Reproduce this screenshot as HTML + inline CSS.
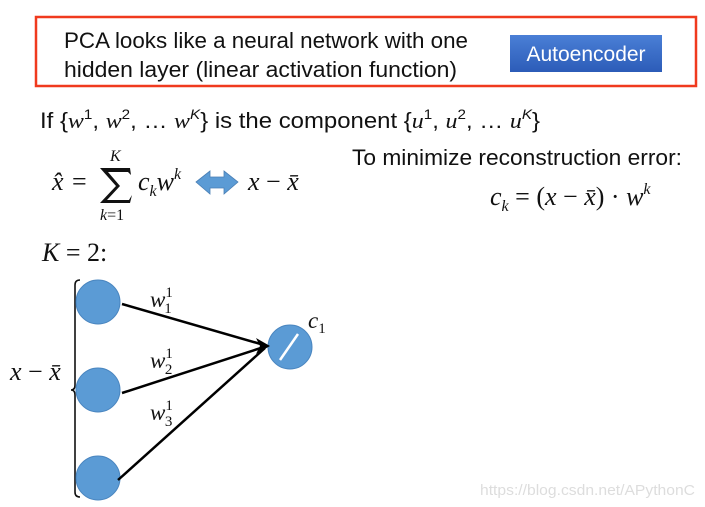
<!DOCTYPE html>
<html><head><style>body{margin:0;background:#fff}svg{display:block}</style></head><body>
<svg width="705" height="507" viewBox="0 0 705 507" xmlns="http://www.w3.org/2000/svg" font-family="Liberation Sans, sans-serif">
<defs><linearGradient id="g" x1="0" y1="0" x2="0" y2="1"><stop offset="0" stop-color="#4a7fd6"/><stop offset="1" stop-color="#2c5cb8"/></linearGradient></defs>
<rect x="36" y="17" width="660" height="69" fill="none" stroke="#f03a1e" stroke-width="2.5"/>
<text x="64" y="48" font-size="22" fill="#111" textLength="404" lengthAdjust="spacingAndGlyphs">PCA looks like a neural network with one</text>
<text x="64" y="77" font-size="22" fill="#111" textLength="393" lengthAdjust="spacingAndGlyphs">hidden layer (linear activation function)</text>
<rect x="510" y="35" width="152" height="37" fill="url(#g)"/>
<text x="586" y="61" font-size="21" fill="#fff" text-anchor="middle">Autoencoder</text>
<text x="40" y="128" font-size="22" fill="#111" textLength="500" lengthAdjust="spacingAndGlyphs">If {<tspan font-family="Liberation Serif" font-style="italic">w</tspan><tspan font-size="14" dy="-9">1</tspan><tspan dy="9">, </tspan><tspan font-family="Liberation Serif" font-style="italic">w</tspan><tspan font-size="14" dy="-9">2</tspan><tspan dy="9">, … </tspan><tspan font-family="Liberation Serif" font-style="italic">w</tspan><tspan font-size="14" dy="-9" font-style="italic">K</tspan><tspan dy="9">} is the component {</tspan><tspan font-family="Liberation Serif" font-style="italic">u</tspan><tspan font-size="14" dy="-9">1</tspan><tspan dy="9">, </tspan><tspan font-family="Liberation Serif" font-style="italic">u</tspan><tspan font-size="14" dy="-9">2</tspan><tspan dy="9">, … </tspan><tspan font-family="Liberation Serif" font-style="italic">u</tspan><tspan font-size="14" dy="-9" font-style="italic">K</tspan><tspan dy="9">}</tspan></text>
<g font-family="Liberation Serif" fill="#111">
<text x="52" y="190" font-size="26" font-style="italic">x̂</text>
<text x="72" y="190" font-size="26">=</text>
<path d="M100 168 L130 168 L131 175 L128 172 L108 172 L120 186 L107 200 L129 200 L132 195 L130 203 L100 203 L116 186 Z" fill="#111"/>
<text x="110" y="161" font-size="16" font-style="italic">K</text>
<text x="100" y="220" font-size="16"><tspan font-style="italic">k</tspan>=1</text>
<text x="138" y="190" font-size="26" font-style="italic">c<tspan font-size="16" dy="6">k</tspan><tspan dy="-6">w</tspan><tspan font-size="16" dy="-11">k</tspan></text>
<text x="248" y="190" font-size="26" font-style="italic">x <tspan font-style="normal">−</tspan> x̄</text>
<text x="490" y="205" font-size="26" font-style="italic">c<tspan font-size="16" dy="6">k</tspan><tspan dy="-6" font-style="normal"> = (</tspan>x <tspan font-style="normal">−</tspan> x̄<tspan font-style="normal">) · </tspan>w<tspan font-size="16" dy="-11">k</tspan></text>
<text x="42" y="261" font-size="26" font-style="italic">K <tspan font-style="normal">= 2:</tspan></text>
<text x="10" y="380" font-size="26" font-style="italic">x <tspan font-style="normal">−</tspan> x̄</text>
<text x="150" y="307" font-size="23" font-style="italic">w<tspan font-size="15" font-style="normal" dy="-10">1</tspan><tspan font-size="15" font-style="normal" dx="-8" dy="16">1</tspan></text>
<text x="150" y="368" font-size="23" font-style="italic">w<tspan font-size="15" font-style="normal" dy="-10">1</tspan><tspan font-size="15" font-style="normal" dx="-8" dy="16">2</tspan></text>
<text x="150" y="420" font-size="23" font-style="italic">w<tspan font-size="15" font-style="normal" dy="-10">1</tspan><tspan font-size="15" font-style="normal" dx="-8" dy="16">3</tspan></text>
<text x="308" y="328" font-size="23" font-style="italic">c<tspan font-size="15" font-style="normal" dy="5">1</tspan></text>
</g>
<text x="352" y="165" font-size="22" fill="#111" textLength="330" lengthAdjust="spacingAndGlyphs">To minimize reconstruction error:</text>
<path d="M196 182 L210 171 L210 177 L224 177 L224 171 L238 182 L224 194 L224 188 L210 188 L210 194 Z" fill="#5b9bd5" stroke="#4a7fb5" stroke-width="0.8"/>
<path d="M80 280 Q75 280 75 285 L75 385 Q75 390 71 390 Q75 390 75 395 L75 492 Q75 497 80 497" fill="none" stroke="#111" stroke-width="1.6"/>
<g fill="#5b9bd5" stroke="#4a86c0"><ellipse cx="98" cy="302" rx="22" ry="22"/><ellipse cx="98" cy="390" rx="22" ry="22"/><ellipse cx="98" cy="478" rx="22" ry="22"/><ellipse cx="290" cy="347" rx="22" ry="22"/></g>
<line x1="280" y1="360" x2="298" y2="334" stroke="#fff" stroke-width="2.5"/>
<g stroke="#000" stroke-width="2.5"><line x1="122" y1="304" x2="264" y2="345"/><line x1="122" y1="393" x2="264" y2="347"/><line x1="118" y1="480" x2="265" y2="348"/></g>
<path d="M270 346 L256 338 L260 346 L256 354 Z" fill="#000"/>
<text x="480" y="495" font-size="15" fill="#ddd" textLength="215" lengthAdjust="spacingAndGlyphs">https://blog.csdn.net/APythonC</text>
</svg>
</body></html>
